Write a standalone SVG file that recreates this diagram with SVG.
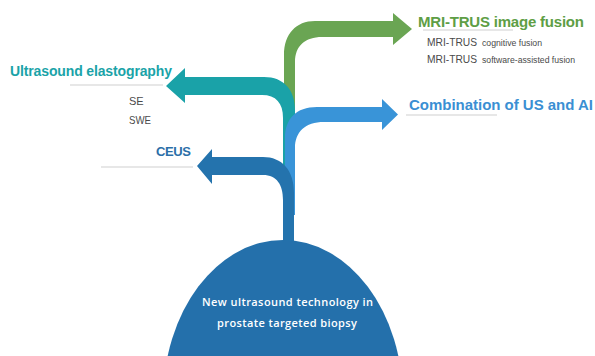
<svg xmlns="http://www.w3.org/2000/svg" width="595" height="356" viewBox="0 0 595 356">
<style>
.t{font-family:"Liberation Sans",Arial,sans-serif;font-weight:bold}
.s{font-family:"Liberation Sans",Arial,sans-serif;fill:#4a4a4a}
.u{stroke:#cfcfcf;stroke-width:1;fill:none}
.d{font-family:"Open Sans","Liberation Sans",sans-serif;font-weight:600;fill:#ffffff;font-size:11px}
</style>
<rect width="595" height="356" fill="#ffffff"/>
<g id="connectors">
<path id="b-green" fill="#6aa553" d="M284,115 L284,55 C284,34 296,21 315,21 L393,21 L393,13 L412,29 L393,45 L393,37 L322,37 C305,37 295,46 295,62 L295,115 Z"/>
<path id="b-teal" fill="#1aa2a8" d="M185,77 L264,77 C284,77 295,90 295,110 L295,170 L283,170 L283,118 C283,103 276,95 262,95 L185,95 L185,103 L166,86 L185,68 Z"/>
<path id="b-light" fill="#3994d8" d="M285,215 L285,138 C285,119 296,107 317,107 L382,107 L382,99 L398,114.5 L382,130 L382,122 L324,122 C305,122 295,132 295,148 L295,215 Z"/>
<path id="b-dark" fill="#2473ad" d="M212,157 L263,157 C282,157 294,170 294,193 L294,250 L283,250 L283,200 C283,185 277,175 263,175 L212,175 L212,184 L197,166 L212,149 Z"/>
</g>
<g id="root">
<ellipse cx="283" cy="400" rx="120" ry="160" fill="#2470ab"/>
<text class="d" x="287.5" y="306" text-anchor="middle" textLength="171" lengthAdjust="spacing">New ultrasound technology in</text>
<text class="d" x="287" y="327" text-anchor="middle" textLength="140" lengthAdjust="spacing">prostate targeted biopsy</text>
</g>
<g id="mri">
<text class="t" x="418" y="27" font-size="15" fill="#5e9e45" textLength="166" lengthAdjust="spacing">MRI-TRUS image fusion</text>
<line class="u" x1="423" y1="30" x2="513" y2="30"/>
<text class="s" x="427" y="46" font-size="10.5" textLength="50" lengthAdjust="spacingAndGlyphs">MRI-TRUS</text>
<text class="s" x="482" y="46" font-size="9" textLength="60" lengthAdjust="spacingAndGlyphs">cognitive fusion</text>
<text class="s" x="427" y="63" font-size="10.5" textLength="50" lengthAdjust="spacingAndGlyphs">MRI-TRUS</text>
<text class="s" x="482" y="63" font-size="9" textLength="93" lengthAdjust="spacingAndGlyphs">software-assisted fusion</text>
</g>
<g id="elasto">
<text class="t" x="10" y="76" font-size="14" fill="#1aa3a8" textLength="162" lengthAdjust="spacing">Ultrasound elastography</text>
<line class="u" x1="70" y1="85" x2="163" y2="85"/>
<text class="s" x="129" y="105" font-size="11">SE</text>
<text class="s" x="129" y="124" font-size="11" textLength="22" lengthAdjust="spacingAndGlyphs">SWE</text>
</g>
<g id="ai">
<text class="t" x="409" y="110" font-size="15" fill="#3a8fd3" textLength="184" lengthAdjust="spacing">Combination of US and AI</text>
<line class="u" x1="406" y1="115" x2="497" y2="115"/>
</g>
<g id="ceus">
<text class="t" x="156" y="156" font-size="13" fill="#2b6fa8" textLength="35" lengthAdjust="spacing">CEUS</text>
<line class="u" x1="101" y1="167" x2="193" y2="167"/>
</g>
</svg>
